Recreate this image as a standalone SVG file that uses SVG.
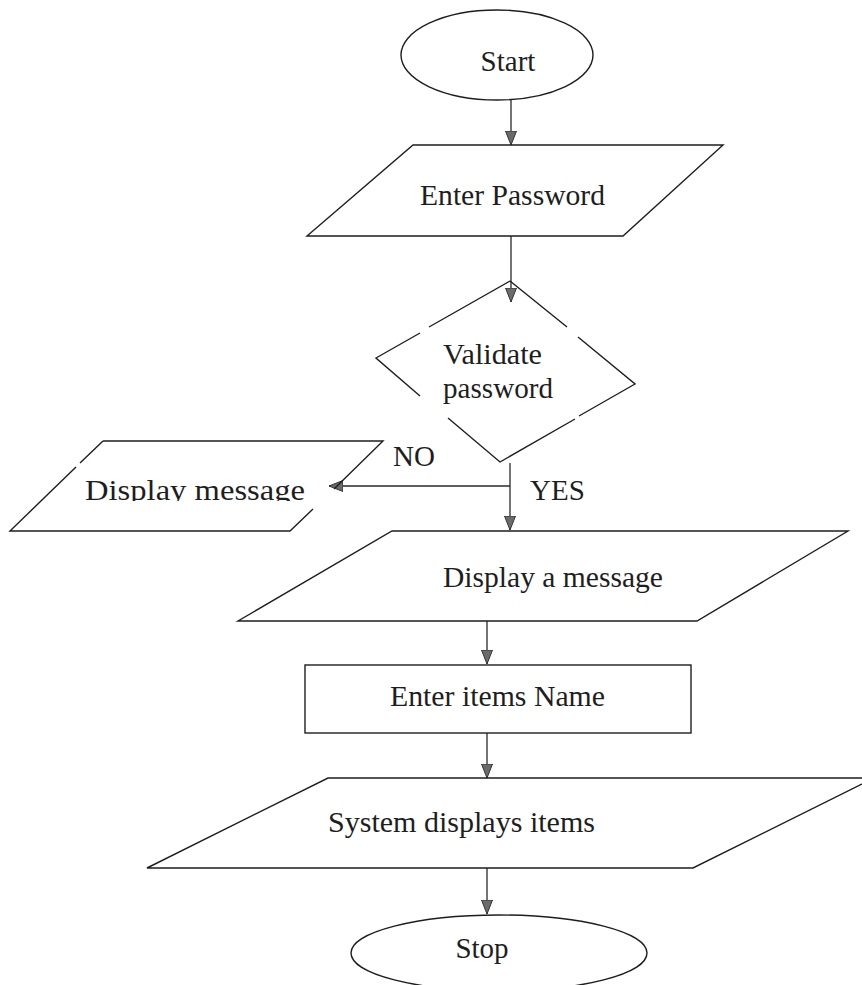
<svg xmlns="http://www.w3.org/2000/svg" width="862" height="985" viewBox="0 0 862 985">
  <style>
    .shape { fill: #ffffff; stroke: #1e1e1e; stroke-width: 1.4; }
    .open { fill: none; stroke: #1e1e1e; stroke-width: 1.4; }
    .conn { fill: none; stroke: #2a2a2a; stroke-width: 1.3; }
    .lbl { font-family: "Liberation Serif", "Times New Roman", serif; font-size: 29px; fill: #1e1e1e; }
  </style>
  <defs>
    <marker id="ah" markerWidth="14" markerHeight="12" refX="14" refY="6" orient="auto" markerUnits="userSpaceOnUse">
      <path d="M0,0.5 L14,6 L0,11.5 Z" fill="#6b6b6b" stroke="#333333" stroke-width="1"/>
    </marker>
    <clipPath id="clipMsg">
      <rect x="0" y="440" width="400" height="61"/>
    </clipPath>
  </defs>
  <rect x="0" y="0" width="862" height="985" fill="#ffffff"/>

  <g id="connectors">
    <line class="conn" x1="511" y1="100" x2="511" y2="145" marker-end="url(#ah)"/>
    <line class="conn" x1="511" y1="236" x2="511" y2="302" marker-end="url(#ah)"/>
    <line class="conn" x1="510" y1="463" x2="510" y2="530" marker-end="url(#ah)"/>
    <line class="conn" x1="510" y1="486" x2="329" y2="486" marker-end="url(#ah)"/>
    <line class="conn" x1="487" y1="621" x2="487" y2="664" marker-end="url(#ah)"/>
    <line class="conn" x1="487" y1="733" x2="487" y2="778" marker-end="url(#ah)"/>
    <line class="conn" x1="487" y1="868" x2="487" y2="914" marker-end="url(#ah)"/>
  </g>

  <g id="label-no">
    <text class="lbl" x="393" y="466">NO</text>
  </g>
  <g id="label-yes">
    <text class="lbl" x="530" y="500">YES</text>
  </g>

  <g id="start">
    <ellipse class="shape" cx="497" cy="55" rx="96" ry="45"/>
    <text class="lbl" x="508" y="71" text-anchor="middle">Start</text>
  </g>

  <g id="enter-password">
    <polygon class="shape" points="413,145 723,145 623,236 307,236"/>
    <text class="lbl" x="420" y="205" textLength="185" lengthAdjust="spacingAndGlyphs">Enter Password</text>
  </g>

  <g id="validate-password">
    <path class="open" d="M510,281 L429,327 M420,333 L376,358 L420,396 M448,418 L500,462 L575,419 M579,416 L635,384 L578,337 M567,327 L510,281"/>
    <text class="lbl" x="443" y="364" textLength="99" lengthAdjust="spacingAndGlyphs">Validate</text>
    <text class="lbl" x="443" y="398" textLength="110" lengthAdjust="spacingAndGlyphs">password</text>
  </g>

  <g id="display-message">
    <path class="open" d="M103,441 L383,441 L334,489 M313,509 L290,531 L10,531 L76,467 M80,463 L103,441"/>
    <text class="lbl" x="85" y="500" textLength="220" lengthAdjust="spacingAndGlyphs" clip-path="url(#clipMsg)">Display message</text>
  </g>

  <g id="display-a-message">
    <polygon class="shape" points="392,531 848,531 697,621 238,621"/>
    <text class="lbl" x="443" y="587" textLength="220" lengthAdjust="spacingAndGlyphs">Display a message</text>
  </g>

  <g id="enter-items-name">
    <rect class="shape" x="305" y="665" width="386" height="68"/>
    <text class="lbl" x="390" y="706" textLength="215" lengthAdjust="spacingAndGlyphs">Enter items Name</text>
  </g>

  <g id="system-displays-items">
    <polygon class="shape" points="328,778 874,778 693,868 147,868"/>
    <text class="lbl" x="328" y="832" textLength="267" lengthAdjust="spacingAndGlyphs">System displays items</text>
  </g>

  <g id="stop">
    <ellipse class="shape" cx="499" cy="953" rx="148" ry="38"/>
    <text class="lbl" x="482" y="958" text-anchor="middle">Stop</text>
  </g>
</svg>
